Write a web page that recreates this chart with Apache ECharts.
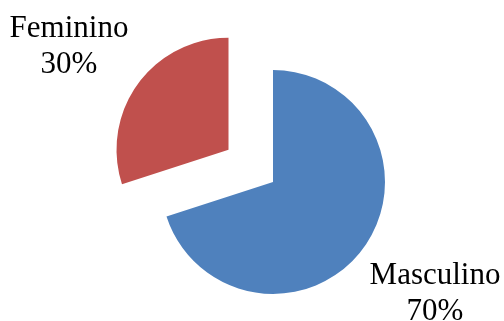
<!DOCTYPE html>
<html>
<head>
<meta charset="utf-8">
<script src="https://cdn.jsdelivr.net/npm/echarts@6/dist/echarts.min.js"></script>
<style>html,body{margin:0;padding:0;background:#fff;}#c{width:504px;height:321px;}</style>
</head>
<body>
<div id="c"></div>
<script>
var categories = ['Masculino', 'Feminino'];
var values = [70, 30];
var colors = ['#4F81BD', '#C0504D'];
var labelPos = [[435, 294], [69, 47]];

var center = [273, 182];
var radius = 112;

var chart = echarts.init(document.getElementById('c'), null, {renderer: 'canvas'});
chart.setOption({
  animation: false,
  series: [{
    type: 'pie',
    center: center,
    radius: radius,
    startAngle: 90,
    clockwise: true,
    selectedMode: 'single',
    selectedOffset: 55,
    emphasis: {disabled: true},
    label: {show: false},
    labelLine: {show: false},
    data: categories.map(function (c, i) {
      return {name: c, value: values[i], selected: i === 1, itemStyle: {color: colors[i]}};
    })
  }, {
    type: 'pie',
    center: center,
    radius: radius,
    startAngle: 90,
    clockwise: true,
    silent: true,
    selectedMode: false,
    avoidLabelOverlap: false,
    emphasis: {disabled: true},
    itemStyle: {color: 'rgba(0,0,0,0)'},
    labelLine: {show: false},
    label: {
      show: true,
      position: 'outside',
      formatter: function (p) { return p.name + '\n' + Math.round(p.percent) + '%'; },
      fontFamily: 'Liberation Serif',
      fontSize: 31,
      lineHeight: 36,
      color: '#000',
      align: 'center'
    },
    labelLayout: function (p) {
      var pos = labelPos[p.dataIndex];
      return {x: pos[0], y: pos[1], align: 'center', verticalAlign: 'middle'};
    },
    data: categories.map(function (c, i) {
      return {name: c, value: values[i]};
    })
  }]
});
</script>
</body>
</html>
